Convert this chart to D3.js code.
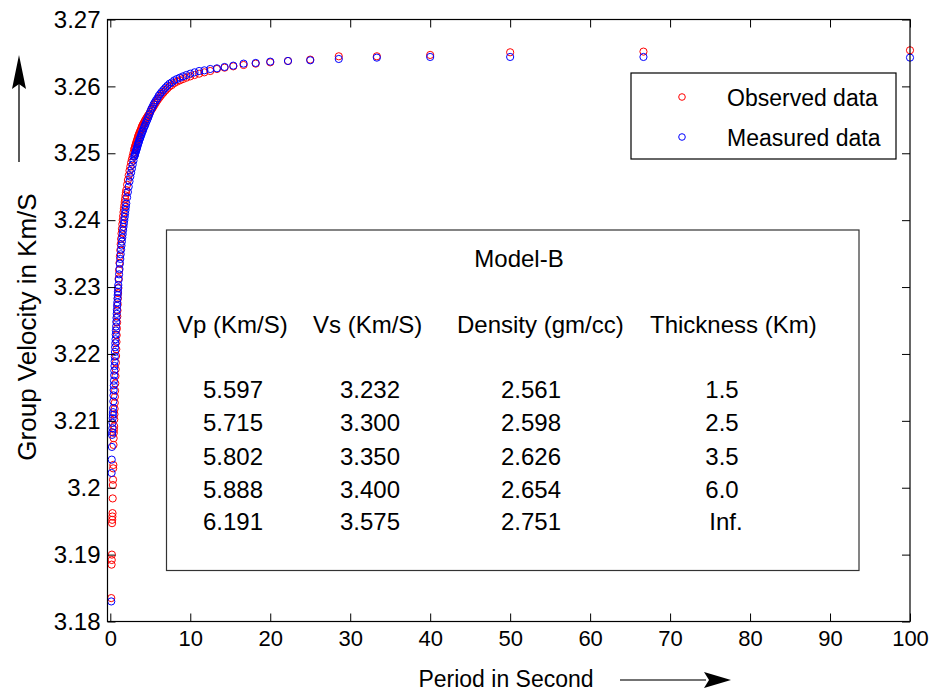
<!DOCTYPE html>
<html>
<head>
<meta charset="utf-8">
<script src="https://cdn.jsdelivr.net/npm/d3@7"></script>
<style>
  html, body { margin: 0; padding: 0; background: #fff; }
  svg { display: block; font-family: "Liberation Sans", Arial, sans-serif; }
</style>
</head>
<body>
<svg id="chart" width="934" height="694"></svg>
<script>
// ---------------- data ----------------
const periods = [
  0.12, 0.16, 0.18, 0.2, 0.22, 0.24, 0.26, 0.28, 0.3, 0.32, 0.34, 0.36, 0.38, 0.4, 0.42, 0.44, 0.46, 0.48, 0.5,
  0.52, 0.54, 0.56, 0.58, 0.6, 0.625, 0.65, 0.675, 0.7, 0.725, 0.75, 0.775, 0.8, 0.825, 0.85, 0.875, 0.9, 0.925,
  0.95, 0.975, 1.0, 1.05, 1.1, 1.15, 1.2, 1.25, 1.3, 1.35, 1.4, 1.45, 1.5, 1.55, 1.6, 1.65, 1.7, 1.75, 1.8, 1.85,
  1.9, 1.95, 2.0, 2.1, 2.2, 2.3, 2.4, 2.5, 2.6, 2.7, 2.8, 2.9, 3.0, 3.03, 3.08, 3.13, 3.17, 3.23, 3.28, 3.33, 3.39,
  3.45, 3.51, 3.57, 3.64, 3.7, 3.77, 3.85, 3.92, 4.0, 4.08, 4.17, 4.26, 4.35, 4.44, 4.55, 4.65, 4.76, 4.88, 5.0,
  5.13, 5.26, 5.41, 5.56, 5.71, 5.88, 6.06, 6.25, 6.45, 6.67, 6.9, 7.14, 7.41, 7.69, 8.0, 8.33, 8.7, 9.09, 9.52,
  10.0, 10.53, 11.11, 11.76, 12.5, 13.33, 14.29, 15.38, 16.67, 18.18, 20, 22.22, 25, 28.57, 33.33, 40, 50, 66.67, 100
];

const observed = [
  3.1835, 3.1885, 3.1892, 3.1900, 3.1947, 3.1952, 3.1957, 3.1962, 3.1984, 3.2004, 3.2012, 3.2029, 3.2034, 3.2064,
  3.2074, 3.2082, 3.2087, 3.2092, 3.2102, 3.2110, 3.2118, 3.2127, 3.2136, 3.2145, 3.2156, 3.2167, 3.2177, 3.2187,
  3.2197, 3.2207, 3.2218, 3.2228, 3.2238, 3.2247, 3.2256, 3.2265, 3.2274, 3.2283, 3.2291, 3.2299, 3.2313, 3.2325,
  3.2336, 3.2346, 3.2355, 3.2364, 3.2372, 3.2380, 3.2387, 3.2394, 3.2400, 3.2406, 3.2412, 3.2417, 3.2422, 3.2427,
  3.2432, 3.2437, 3.2441, 3.2445, 3.2453, 3.2460, 3.2467, 3.2474, 3.2480, 3.2486, 3.2491, 3.2496, 3.2501, 3.2506,
  3.2507, 3.2509, 3.2511, 3.2513, 3.2515, 3.2517, 3.2519, 3.2521, 3.2524, 3.2526, 3.2528, 3.2530, 3.2532, 3.2534,
  3.2536, 3.2539, 3.2541, 3.2543, 3.2545, 3.2547, 3.2549, 3.2551, 3.2553, 3.2555, 3.2557, 3.2559, 3.2562, 3.2565,
  3.2567, 3.2570, 3.2573, 3.2576, 3.2579, 3.2582, 3.2585, 3.2588, 3.2591, 3.2594, 3.2597, 3.2600, 3.2602, 3.2605,
  3.2607, 3.2609, 3.2611, 3.2613, 3.2615, 3.2617, 3.2619, 3.2621, 3.2623, 3.2626, 3.2628, 3.2630, 3.2632, 3.2634,
  3.2636, 3.2638, 3.2640, 3.2645, 3.2645, 3.2647, 3.2651, 3.2652, 3.2654
];

const measured = [
  3.1830, 3.2022, 3.2042, 3.2061, 3.2079, 3.2083, 3.2089, 3.2097, 3.2104, 3.2109, 3.2113, 3.2119, 3.2129, 3.2138,
  3.2146, 3.2153, 3.2160, 3.2168, 3.2175, 3.2182, 3.2189, 3.2196, 3.2203, 3.2210, 3.2216, 3.2222, 3.2229, 3.2235,
  3.2241, 3.2248, 3.2254, 3.2260, 3.2266, 3.2272, 3.2277, 3.2283, 3.2288, 3.2293, 3.2298, 3.2303, 3.2311, 3.2319,
  3.2327, 3.2335, 3.2342, 3.2349, 3.2356, 3.2362, 3.2368, 3.2374, 3.2379, 3.2385, 3.2390, 3.2395, 3.2400, 3.2405,
  3.2410, 3.2415, 3.2420, 3.2425, 3.2434, 3.2442, 3.2450, 3.2458, 3.2465, 3.2471, 3.2477, 3.2483, 3.2489, 3.2495,
  3.2496, 3.2498, 3.2500, 3.2502, 3.2504, 3.2506, 3.2508, 3.2510, 3.2513, 3.2515, 3.2517, 3.2520, 3.2522, 3.2524,
  3.2527, 3.2529, 3.2532, 3.2534, 3.2537, 3.2540, 3.2542, 3.2545, 3.2548, 3.2551, 3.2554, 3.2558, 3.2562, 3.2566,
  3.2569, 3.2573, 3.2576, 3.2579, 3.2582, 3.2586, 3.2589, 3.2592, 3.2595, 3.2598, 3.2601, 3.2604, 3.2606, 3.2609,
  3.2611, 3.2613, 3.2615, 3.2617, 3.2619, 3.2621, 3.2623, 3.2624, 3.2626, 3.2627, 3.2629, 3.2631, 3.2634, 3.2635,
  3.2637, 3.2638, 3.2639, 3.2641, 3.2643, 3.2644, 3.2644, 3.2644, 3.2643
];

const seriesNames = ["Observed data", "Measured data"];
const seriesColors = ["#ff0000", "#0000ff"];

const xTickValues = [0, 10, 20, 30, 40, 50, 60, 70, 80, 90, 100];
const xTickLabels = ["0", "10", "20", "30", "40", "50", "60", "70", "80", "90", "100"];
const yTickValues = [3.18, 3.19, 3.20, 3.21, 3.22, 3.23, 3.24, 3.25, 3.26, 3.27];
const yTickLabels = ["3.18", "3.19", "3.2", "3.21", "3.22", "3.23", "3.24", "3.25", "3.26", "3.27"];

const xTitle = "Period in Second";
const yTitle = "Group Velocity in Km/S";

const modelTitle = "Model-B";
const tableHeaders = ["Vp (Km/S)", "Vs (Km/S)", "Density (gm/cc)", "Thickness (Km)"];
const vpValues = ["5.597", "5.715", "5.802", "5.888", "6.191"];
const vsValues = ["3.232", "3.300", "3.350", "3.400", "3.575"];
const densityValues = ["2.561", "2.598", "2.626", "2.654", "2.751"];
const thicknessValues = ["1.5", "2.5", "3.5", "6.0", "Inf."];

// ---------------- layout ----------------
const svg = d3.select("#chart");
svg.append("rect").attr("width", 934).attr("height", 694).attr("fill", "#fff");

const L = 107.5, R = 910, T = 19.5, B = 621.5;
const x = d3.scaleLinear().domain([-0.35, 100]).range([L, R]);
const y = d3.scaleLinear().domain([3.18, 3.27]).range([B, T]);

const fontTick = 24;

// data points (observed first, measured on top)
const seriesData = [observed, measured];
seriesData.forEach((vals, s) => {
  svg.append("g")
    .selectAll("circle")
    .data(periods.map((p, i) => [p, vals[i]]))
    .join("circle")
    .attr("cx", d => x(d[0]))
    .attr("cy", d => y(d[1]))
    .attr("r", 3.6)
    .attr("fill", "none")
    .attr("stroke", seriesColors[s])
    .attr("stroke-width", 1);
});

// axes
const xAxis = d3.axisBottom(x).tickValues(xTickValues)
  .tickFormat((d, i) => xTickLabels[i]).tickSizeInner(-8).tickSizeOuter(0).tickPadding(9);
const gx = svg.append("g").attr("transform", `translate(0,${B})`).call(xAxis);
gx.select(".domain").remove();
gx.selectAll("line").attr("stroke", "#000");
gx.selectAll("text").attr("font-size", 22).attr("fill", "#000")
  .attr("font-family", "'Liberation Sans', Arial, sans-serif");

const gxTop = svg.append("g").attr("transform", `translate(0,${T})`)
  .call(d3.axisTop(x).tickValues(xTickValues).tickFormat("").tickSizeInner(-8).tickSizeOuter(0));
gxTop.select(".domain").remove();

const yAxis = d3.axisLeft(y).tickValues(yTickValues)
  .tickFormat((d, i) => yTickLabels[i]).tickSizeInner(-8).tickSizeOuter(0).tickPadding(7);
const gy = svg.append("g").attr("transform", `translate(${L},0)`).call(yAxis);
gy.select(".domain").remove();
gy.selectAll("text").attr("font-size", fontTick).attr("fill", "#000")
  .attr("font-family", "'Liberation Sans', Arial, sans-serif");

const gyRight = svg.append("g").attr("transform", `translate(${R},0)`)
  .call(d3.axisRight(y).tickValues(yTickValues).tickFormat("").tickSizeInner(-8).tickSizeOuter(0));
gyRight.select(".domain").remove();

// axes box
svg.append("rect").attr("x", L).attr("y", T).attr("width", R - L).attr("height", B - T)
  .attr("fill", "none").attr("stroke", "#000").attr("stroke-width", 1.2);

// axis titles
svg.append("text").attr("x", 506).attr("y", 687)
  .attr("text-anchor", "middle").attr("font-size", 23).attr("fill", "#000").text(xTitle);
svg.append("text").attr("transform", "translate(36,327) rotate(-90)")
  .attr("text-anchor", "middle").attr("font-size", 26).attr("fill", "#000").text(yTitle);

// arrows
svg.append("line").attr("x1", 620).attr("x2", 706).attr("y1", 680).attr("y2", 680)
  .attr("stroke", "#444").attr("stroke-width", 1.3);
svg.append("path").attr("d", "M704,672 L731,680 L704,688 L709,680 Z").attr("fill", "#000");
svg.append("line").attr("x1", 19).attr("x2", 19).attr("y1", 162).attr("y2", 80)
  .attr("stroke", "#000").attr("stroke-width", 1.3);
svg.append("path").attr("d", "M12,89 L19,55 L26,89 L19,84 Z").attr("fill", "#000");

// legend
const lg = svg.append("g");
lg.append("rect").attr("x", 631).attr("y", 73).attr("width", 265).attr("height", 86)
  .attr("fill", "#fff").attr("stroke", "#000").attr("stroke-width", 1.2);
seriesNames.forEach((name, i) => {
  const cy = 97 + i * 40;
  lg.append("circle").attr("cx", 682).attr("cy", cy).attr("r", 3.3)
    .attr("fill", "none").attr("stroke", seriesColors[i]).attr("stroke-width", 1);
  lg.append("text").attr("x", 727).attr("y", cy + 8.5).attr("font-size", 23)
    .attr("fill", "#000").text(name);
});

// model table
const tb = svg.append("g");
tb.append("rect").attr("x", 166.5).attr("y", 230).attr("width", 692.5).attr("height", 340.5)
  .attr("fill", "#fff").attr("stroke", "#333").attr("stroke-width", 1.2);
tb.append("text").attr("x", 519).attr("y", 267).attr("text-anchor", "middle")
  .attr("font-size", 24).attr("fill", "#000").text(modelTitle);
const headerX = [177, 313, 457, 650];
tableHeaders.forEach((h, i) => {
  tb.append("text").attr("x", headerX[i]).attr("y", 333).attr("font-size", 24)
    .attr("fill", "#000").text(h);
});
const colCenters = [233, 370, 531, 722];
const rowY = [398, 431, 465, 498, 530];
[vpValues, vsValues, densityValues, thicknessValues].forEach((col, c) => {
  col.forEach((v, r) => {
    tb.append("text").attr("x", colCenters[c] + (v === "Inf." ? 4 : 0)).attr("y", rowY[r])
      .attr("text-anchor", "middle").attr("font-size", 24).attr("fill", "#000").text(v);
  });
});
</script>
</body>
</html>
